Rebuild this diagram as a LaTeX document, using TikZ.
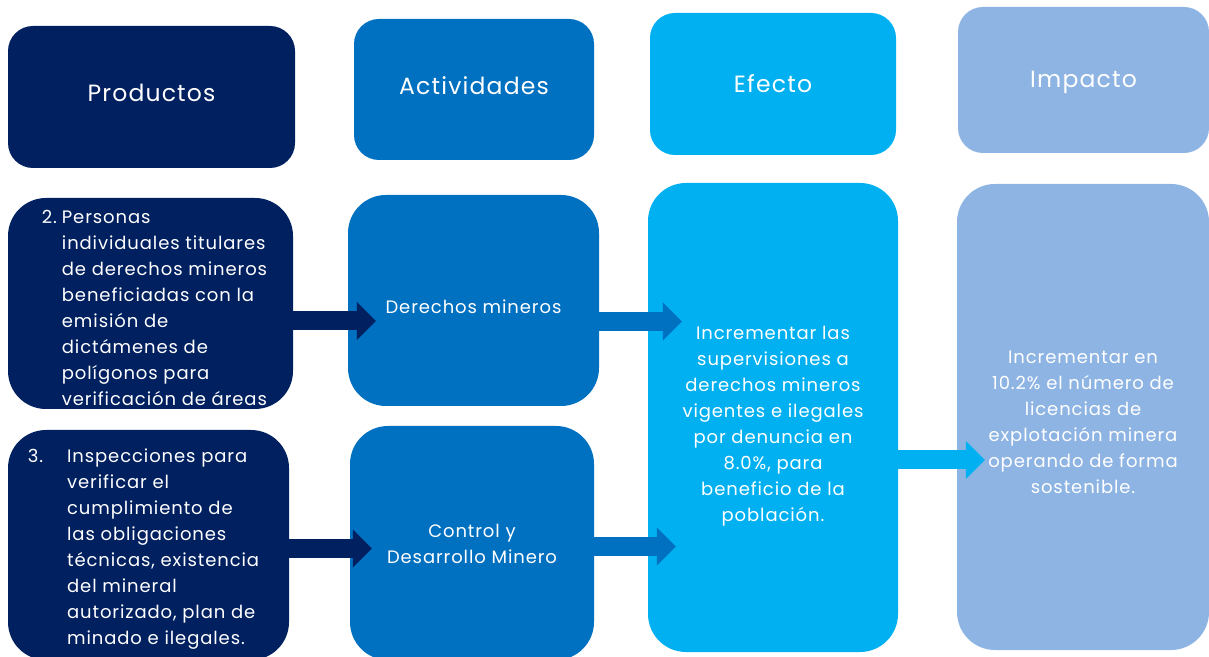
\documentclass[tikz,border=0pt]{standalone}
\usepackage{fontspec}
\setmainfont{Poppins}[LetterSpace=5]
\usetikzlibrary{arrows.meta}
\definecolor{navy}{HTML}{002060}
\definecolor{ocean}{HTML}{0070C0}
\definecolor{sky}{HTML}{00B0F0}
\definecolor{haze}{HTML}{8EB4E3}

\begin{document}
\begin{tikzpicture}[x=1pt, y=1pt,
    head/.style={rounded corners=25pt, inner sep=0pt},
    cell/.style={rounded corners=38pt, inner sep=0pt},
    headtxt/.style={text=white, font=\fontsize{23.5}{28}\selectfont},
    celltxt/.style={text=white, align=center, inner sep=0pt, font=\fontsize{18}{26}\selectfont},
    flow/.style={line width=19pt, -{Triangle[length=19pt, width=38pt, line width=0pt]}}]
    \useasboundingbox (0,0) rectangle (1209,656);
    \path (151.5,559) node[head, fill=navy, minimum width=287pt, minimum height=142pt](hprod){}
        (474,566.5) node[head, fill=ocean, minimum width=240pt, minimum height=141pt](hact){}
        (773,572) node[head, fill=sky, minimum width=246pt, minimum height=142pt](hefe){}
        (1083.5,576) node[head, fill=haze, minimum width=251pt, minimum height=146pt](himp){};
    \path (150.5,352.5) node[cell, fill=navy, minimum width=285pt, minimum height=211pt](p2){}
        (148.5,111) node[cell, fill=navy, minimum width=281pt, minimum height=230pt](p3){}
        (473.5,355.5) node[cell, fill=ocean, minimum width=251pt, minimum height=211pt](a1){}
        (472,113) node[cell, fill=ocean, minimum width=244pt, minimum height=234pt](a2){}
        (773,238.5) node[cell, fill=sky, minimum width=250pt, minimum height=469pt](efe){}
        (1083,239) node[cell, fill=haze, minimum width=252pt, minimum height=466pt](imp){};
    \path (hprod) ++(0,4) node[headtxt](hprodtxt){Productos}
        (hact) ++(0,4) node[headtxt](hacttxt){Actividades}
        (hefe) node[headtxt](hefetxt){Efecto}
        (himp) ++(0,-2) node[headtxt](himptxt){Impacto};
    \path (p2) ++(4,-6) node[celltxt](p2txt){%
            \begin{tabular}{@{}l@{\hspace{5pt}}l@{}}
            2.& Personas\\ & individuales titulares\\ & de derechos mineros\\
            & beneficiadas con la\\ & emisión de\\ & dictámenes de\\
            & polígonos para\\ & verificación de áreas
            \end{tabular}}
        (p3) ++(-5,-3) node[celltxt](p3txt){%
            \begin{tabular}{@{}l@{\hspace{24pt}}l@{}}
            3.& Inspecciones para\\ & verificar el\\ & cumplimiento de\\
            & las obligaciones\\ & técnicas, existencia\\ & del mineral\\
            & autorizado, plan de\\ & minado e ilegales.
            \end{tabular}}
        (a1) ++(0,-6) node[celltxt](a1txt){Derechos mineros}
        (a2) ++(0,-1) node[celltxt](a2txt){Control y\\Desarrollo Minero}
        (efe) ++(0,-9) node[celltxt](efetxt){Incrementar las\\
            supervisiones a\\derechos mineros\\vigentes e ilegales\\por denuncia en\\8.0\%, para\\
            beneficio de la\\población.}
        (imp) ++(0,-5) node[celltxt](imptxt){Incrementar en\\
            10.2\% el número de\\licencias de\\explotación minera\\operando de forma\\sostenible.};
    \draw[flow, navy, shorten >=-28pt] (p2.east |- 0,335) -- (a1.west |- 0,335);
    \draw[flow, navy, shorten >=-22pt] (p3.east |- 0,107.5) -- (a2.west |- 0,107.5);
    \draw[flow, ocean, shorten >=-34pt] (a1.east |- 0,334.5) -- (efe.west |- 0,334.5);
    \draw[flow, ocean, shorten >=-28pt] (a2.east |- 0,109.5) -- (efe.west |- 0,109.5);
    \draw[flow, sky, shorten >=-28pt] (efe.east |- 0,196) -- (imp.west |- 0,196);
\end{tikzpicture}
\end{document}
